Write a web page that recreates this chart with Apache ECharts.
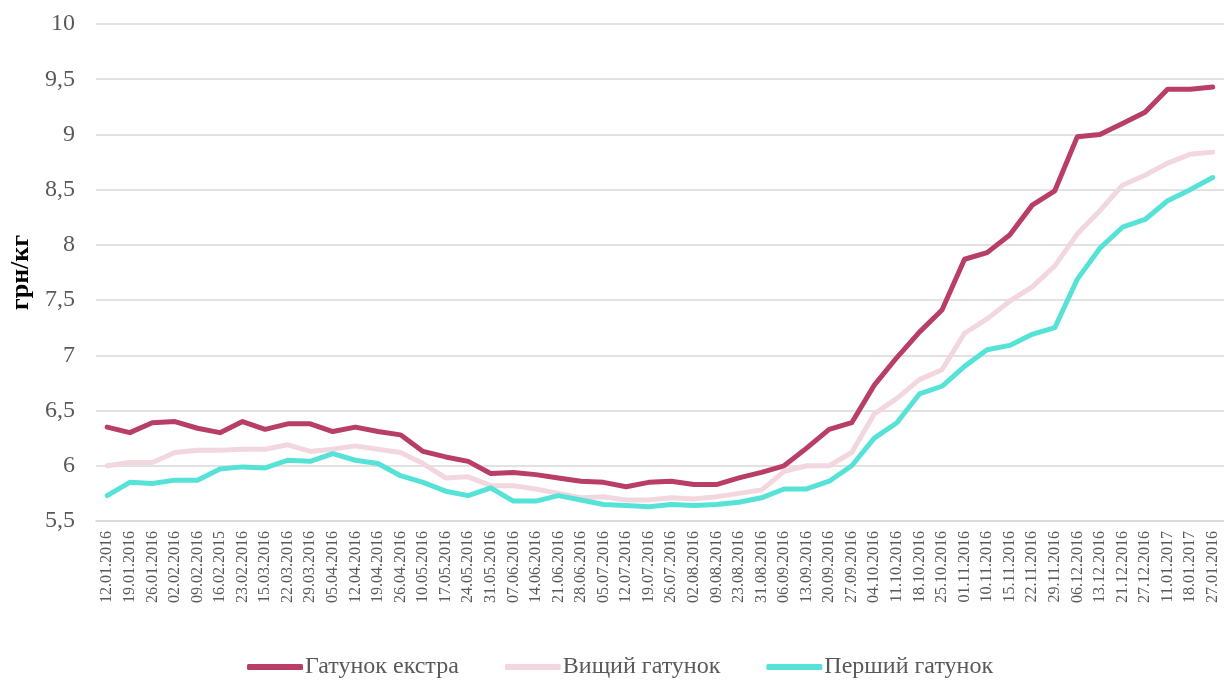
<!DOCTYPE html>
<html><head><meta charset="utf-8">
<script src="https://cdn.jsdelivr.net/npm/echarts@6/dist/echarts.min.js"></script>
<style>html,body{margin:0;padding:0;background:#fff}#c{width:1224px;height:682px}</style>
</head><body><div id="c"></div>
<script>
const categories = ["12.01.2016","19.01.2016","26.01.2016","02.02.2016","09.02.2016","16.02.2015","23.02.2016","15.03.2016","22.03.2016","29.03.2016","05.04.2016","12.04.2016","19.04.2016","26.04.2016","10.05.2016","17.05.2016","24.05.2016","31.05.2016","07.06.2016","14.06.2016","21.06.2016","28.06.2016","05.07.2016","12.07.2016","19.07.2016","26.07.2016","02.08.2016","09.08.2016","23.08.2016","31.08.2016","06.09.2016","13.09.2016","20.09.2016","27.09.2016","04.10.2016","11.10.2016","18.10.2016","25.10.2016","01.11.2016","10.11.2016","15.11.2016","22.11.2016","29.11.2016","06.12.2016","13.12.2016","21.12.2016","27.12.2016","11.01.2017","18.01.2017","27.01.2016"];
const extra = [6.35,6.30,6.39,6.40,6.34,6.30,6.40,6.33,6.38,6.38,6.31,6.35,6.31,6.28,6.13,6.08,6.04,5.93,5.94,5.92,5.89,5.86,5.85,5.81,5.85,5.86,5.83,5.83,5.89,5.94,6.00,6.16,6.33,6.39,6.73,6.98,7.21,7.41,7.87,7.93,8.09,8.36,8.49,8.98,9.00,9.10,9.20,9.41,9.41,9.43];
const vyshchyi = [6.00,6.03,6.03,6.12,6.14,6.14,6.15,6.15,6.19,6.13,6.15,6.18,6.15,6.12,6.02,5.89,5.90,5.82,5.82,5.79,5.75,5.71,5.72,5.69,5.69,5.71,5.70,5.72,5.75,5.78,5.95,6.00,6.00,6.12,6.47,6.61,6.78,6.87,7.20,7.33,7.49,7.62,7.81,8.10,8.31,8.54,8.63,8.74,8.82,8.84];
const pershyi = [5.73,5.85,5.84,5.87,5.87,5.97,5.99,5.98,6.05,6.04,6.11,6.05,6.02,5.91,5.85,5.77,5.73,5.80,5.68,5.68,5.73,5.69,5.65,5.64,5.63,5.65,5.64,5.65,5.67,5.71,5.79,5.79,5.86,6.00,6.25,6.39,6.65,6.72,6.90,7.05,7.09,7.19,7.25,7.69,7.97,8.16,8.23,8.40,8.50,8.61];
const seriesNames = ["Гатунок екстра","Вищий гатунок","Перший гатунок"];
const colors = ["#B83E68","#F2D7DF","#57E2D8"];
const chart = echarts.init(document.getElementById('c'));
const font = "'Liberation Serif','Times New Roman',serif";
chart.setOption({
  animation:false,
  textStyle:{fontFamily:font},
  grid:{left:90,right:0,top:24,bottom:161,containLabel:false},
  legend:{top:655,left:247,padding:0,icon:'roundRect',itemWidth:56,itemHeight:6,itemGap:46,
    textStyle:{fontFamily:font,fontSize:24,color:'#595959',padding:[0,0,0,-3]},data:seriesNames},
  xAxis:{type:'category',data:categories,boundaryGap:true,
    axisLine:{show:true,lineStyle:{color:'#d9d9d9',width:1.5}},axisTick:{show:false},
    axisLabel:{rotate:90,interval:0,fontFamily:font,fontSize:16,color:'#595959',margin:10}},
  yAxis:{type:'value',min:5.5,max:10,interval:0.5,
    name:'грн/кг',nameLocation:'middle',nameRotate:90,nameGap:48,
    nameTextStyle:{fontFamily:font,fontSize:26,fontWeight:'bold',color:'#000'},
    axisLine:{show:false},axisTick:{show:false},
    axisLabel:{fontFamily:font,fontSize:24,color:'#595959',margin:21,formatter:v=>String(v).replace('.',',')},
    splitLine:{lineStyle:{color:'#d9d9d9',width:1.5}}},
  series:[extra,vyshchyi,pershyi].map((d,i)=>({name:seriesNames[i],type:'line',data:d,
    symbol:'none',lineStyle:{width:5,color:colors[i],cap:'round',join:'round'},itemStyle:{color:colors[i]}}))
});
</script></body></html>
